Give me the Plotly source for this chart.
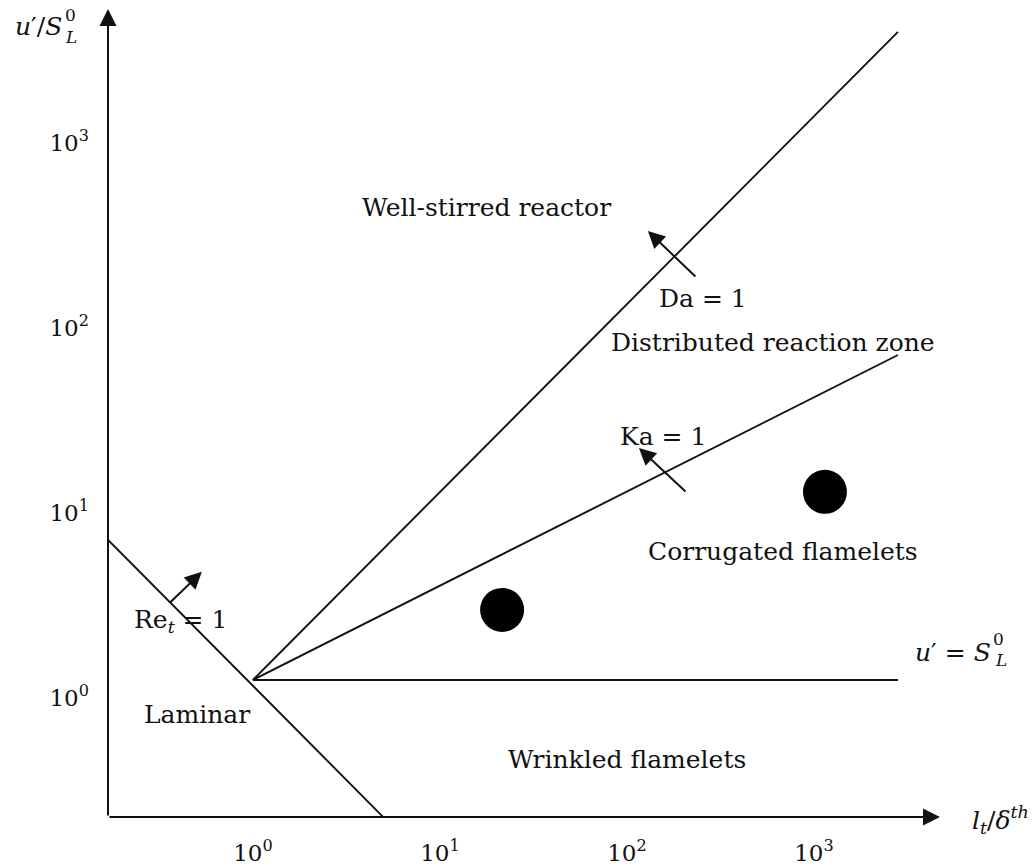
import numpy as np
import plotly.graph_objects as go

# ---------------- data ----------------
tick_vals = [1, 10, 100, 1000]
tick_text = ["10<sup>0</sup>", "10<sup>1</sup>", "10<sup>2</sup>", "10<sup>3</sup>"]

# regime boundary lines (l_t/delta, u'/S_L)
re_x = [0.168, 4.96]
re_y = [5.71, 0.182]
da_x = [1.0, 2813.0]
da_y = [1.0, 3184.0]
ka_x = [1.0, 2813.0]
ka_y = [1.0, 57.1]
us_x = [1.0, 2813.0]
us_y = [1.0, 1.0]

# operating points
pt_x = [21.5, 1145.0]
pt_y = [2.39, 10.4]

# arrows across boundaries: (tail, head)
arrows = {
    "Re": ((0.355, 2.58), (0.533, 3.84)),
    "Da": ((236.6, 148.9), (129.4, 267.3)),
    "Ka": ((209.4, 10.26), (115.9, 17.95)),
}

# region / line labels (x, y, text)
labels = [
    (17.8, 360.0, "Well-stirred reactor"),
    (254.0, 116.0, "Da = 1"),
    (604.0, 66.4, "Distributed reaction zone"),
    (156.0, 20.8, "Ka = 1"),
    (682.0, 4.92, "Corrugated flamelets"),
    (0.41, 2.08, "Re<sub><i>t</i></sub> = 1"),
    (0.50, 0.647, "Laminar"),
    (100.0, 0.370, "Wrinkled flamelets"),
]

X_RANGE = [-0.775, 3.674]
Y_RANGE = [-0.741, 3.627]

FONT = "DejaVu Serif"
INK = "#111111"
W, H = 1032, 868
ML, MR, MT, MB = 108, 92, 9, 51


def paper(px, py):
    """pixel position -> paper coordinates (for texts outside the plot area)"""
    return (px - ML) / (W - ML - MR), (H - MB - py) / (H - MT - MB)


fig = go.Figure()

line_style = dict(color=INK, width=1.9)
for xs, ys in [(re_x, re_y), (da_x, da_y), (ka_x, ka_y), (us_x, us_y)]:
    fig.add_trace(go.Scatter(x=xs, y=ys, mode="lines", line=line_style,
                             hoverinfo="skip", showlegend=False, cliponaxis=False))

fig.add_trace(go.Scatter(x=pt_x, y=pt_y, mode="markers",
                         marker=dict(size=44, color="black"),
                         showlegend=False, hoverinfo="skip"))

annotations = []
lg = np.log10

# small arrows
for name, (tail, head) in arrows.items():
    annotations.append(dict(
        x=lg(head[0]), y=lg(head[1]), ax=lg(tail[0]), ay=lg(tail[1]),
        xref="x", yref="y", axref="x", ayref="y", text="",
        showarrow=True, arrowhead=2, arrowsize=1.7, arrowwidth=2,
        arrowcolor=INK, standoff=0))

# axis arrows
annotations.append(dict(x=X_RANGE[0], y=Y_RANGE[1], ax=X_RANGE[0], ay=Y_RANGE[0],
                        xref="x", yref="y", axref="x", ayref="y", text="",
                        showarrow=True, arrowhead=2, arrowsize=1.7, arrowwidth=2,
                        arrowcolor=INK, standoff=0))
annotations.append(dict(x=X_RANGE[1], y=Y_RANGE[0], ax=X_RANGE[0], ay=Y_RANGE[0],
                        xref="x", yref="y", axref="x", ayref="y", text="",
                        showarrow=True, arrowhead=2, arrowsize=1.7, arrowwidth=2,
                        arrowcolor=INK, standoff=0))

TF = dict(family=FONT, size=25, color=INK)
SF = dict(family=FONT, size=17, color=INK)

for x, y, t in labels:
    annotations.append(dict(x=lg(x), y=lg(y), xref="x", yref="y", text=t,
                            showarrow=False, font=TF))


def txt(px, py, text, font, xanchor="center"):
    x, y = paper(px, py)
    annotations.append(dict(x=x, y=y, xref="paper", yref="paper", text=text,
                            xanchor=xanchor, yanchor="middle", showarrow=False,
                            font=font))


# u' = S_L^0 label next to the horizontal line
txt(993, 652, "<i>u</i>′ = <i>S</i>", TF, xanchor="right")
txt(999, 639, "0", SF)
txt(1001, 660, "<i>L</i>", SF)

# y-axis title u'/S_L^0
txt(64, 26, "<i>u</i>′/<i>S</i>", TF, xanchor="right")
txt(70, 15, "0", SF)
txt(71, 37, "<i>L</i>", SF)

# x-axis title l_t / delta^th
txt(970, 820, "<i>l<sub>t</sub></i>/<i>δ<sup>th</sup></i>", TF, xanchor="left")

fig.update_layout(
    width=W, height=H,
    margin=dict(l=ML, r=MR, t=MT, b=MB, autoexpand=False),
    plot_bgcolor="white", paper_bgcolor="white",
    annotations=annotations,
    xaxis=dict(type="log", range=X_RANGE, showgrid=False, zeroline=False,
               showline=False, tickvals=tick_vals, ticktext=tick_text, ticks="",
               ticklabelstandoff=20, automargin=False,
               tickfont=dict(family=FONT, size=23, color=INK)),
    yaxis=dict(type="log", range=Y_RANGE, showgrid=False, zeroline=False,
               showline=False, tickvals=tick_vals, ticktext=tick_text, ticks="",
               ticklabelstandoff=18, ticklabelshift=18, automargin=False,
               tickfont=dict(family=FONT, size=23, color=INK)),
)

fig.write_html("out.html")
